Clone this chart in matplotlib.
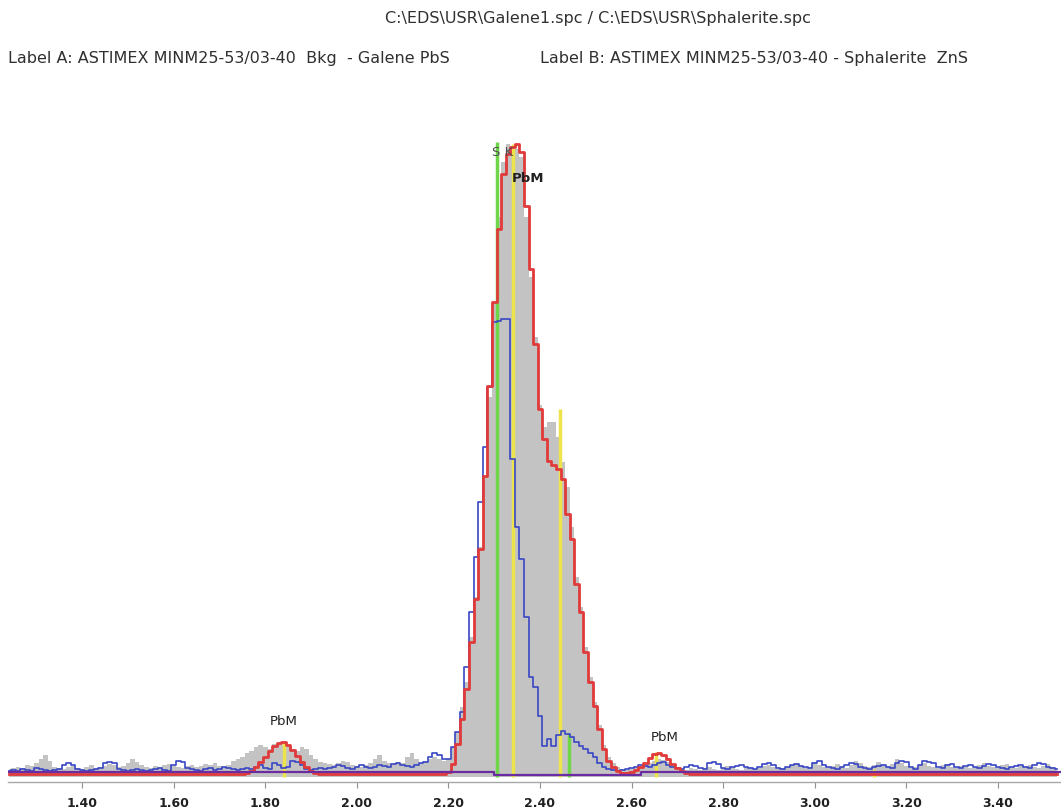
import numpy as np
import matplotlib
matplotlib.use("Agg")
import matplotlib.pyplot as plt

# EDS spectra, 10 eV channels, counts
energy = np.round(np.arange(1.24, 3.535, 0.01), 2)

grey_counts = [
    8, 9, 10, 9, 12, 11, 14, 18, 22, 16,
    10, 9, 8, 10, 11, 9, 8, 10, 12, 9,
    10, 11, 13, 12, 10, 11, 14, 18, 15, 12,
    10, 9, 11, 10, 12, 13, 11, 10, 9, 11,
    12, 10, 11, 13, 12, 14, 11, 10, 12, 16,
    18, 20, 24, 26, 30, 32, 30, 28, 33, 34,
    32, 30, 28, 26, 30, 28, 22, 18, 15, 14,
    13, 12, 14, 16, 15, 12, 11, 10, 12, 14,
    18, 22, 16, 14, 13, 15, 14, 20, 24, 18,
    14, 16, 18, 20, 18, 16, 18, 30, 45, 70,
    95, 140, 180, 230, 300, 380, 475, 560, 615, 633,
    630, 628, 620, 560, 500, 440, 372, 350, 355, 355,
    340, 315, 290, 250, 200, 170, 130, 100, 75, 52,
    32, 20, 14, 10, 8, 7, 8, 9, 10, 12,
    14, 16, 18, 17, 15, 12, 10, 8, 7, 9,
    8, 7, 9, 10, 8, 7, 9, 11, 10, 8,
    7, 9, 10, 8, 9, 11, 12, 10, 8, 9,
    10, 12, 14, 11, 9, 10, 15, 12, 10, 9,
    11, 13, 10, 9, 12, 16, 14, 11, 10, 12,
    15, 12, 10, 13, 18, 14, 11, 9, 10, 12,
    14, 11, 10, 9, 12, 13, 10, 9, 11, 10,
    9, 10, 12, 14, 11, 10, 9, 12, 13, 10,
    9, 11, 10, 12, 10, 9, 11, 13, 10, 9,
]

red_counts = [
    3, 3, 3, 3, 3, 3, 3, 3, 3, 3,
    3, 3, 3, 3, 3, 3, 3, 3, 3, 3,
    3, 3, 3, 3, 3, 3, 3, 3, 3, 3,
    3, 3, 3, 3, 3, 3, 3, 3, 3, 3,
    3, 3, 3, 3, 3, 3, 3, 3, 3, 3,
    3, 3, 4, 6, 10, 15, 20, 26, 31, 34,
    35, 32, 27, 21, 15, 10, 6, 4, 3, 3,
    3, 3, 3, 3, 3, 3, 3, 3, 3, 3,
    3, 3, 3, 3, 3, 3, 3, 3, 3, 3,
    3, 3, 3, 3, 3, 3, 5, 13, 33, 58,
    88, 135, 178, 228, 301, 391, 475, 548, 603, 623,
    630, 633, 625, 571, 508, 433, 368, 338, 316, 312,
    308, 298, 263, 238, 193, 165, 125, 95, 71, 48,
    28, 16, 10, 6, 4, 4, 5, 7, 10, 14,
    19, 23, 24, 22, 18, 13, 9, 6, 4, 3,
    3, 3, 3, 3, 3, 3, 3, 3, 3, 3,
    3, 3, 3, 3, 3, 3, 3, 3, 3, 3,
    3, 3, 3, 3, 3, 3, 3, 3, 3, 3,
    3, 3, 3, 3, 3, 3, 3, 3, 3, 3,
    3, 3, 3, 3, 3, 3, 3, 3, 3, 3,
    3, 3, 3, 3, 3, 3, 3, 3, 3, 3,
    3, 3, 3, 3, 3, 3, 3, 3, 3, 3,
    3, 3, 3, 3, 3, 3, 3, 3, 3, 3,
]

blue_counts = [
    6, 7, 6, 8, 7, 6, 9, 8, 7, 6,
    7, 8, 12, 14, 12, 8, 7, 6, 7, 8,
    9, 14, 15, 14, 8, 7, 6, 7, 8, 7,
    6, 7, 8, 9, 7, 6, 12, 16, 15, 9,
    8, 7, 6, 8, 9, 7, 8, 10, 9, 8,
    7, 8, 9, 8, 10, 12, 9, 8, 14, 12,
    9, 10, 16, 15, 12, 8, 7, 8, 9, 8,
    9, 10, 12, 11, 9, 8, 10, 12, 10, 9,
    10, 12, 11, 10, 13, 14, 12, 11, 10, 12,
    14, 15, 20, 24, 22, 18, 18, 30, 45, 65,
    110, 165, 220, 275, 330, 390, 455, 456, 458, 458,
    318, 250, 218, 160, 100, 90, 61, 31, 38, 31,
    42, 46, 43, 40, 35, 31, 28, 24, 20, 14,
    10, 8, 7, 6, 7, 8, 9, 10, 12, 11,
    10, 12, 14, 15, 12, 10, 9, 8, 10, 12,
    11, 9, 8, 14, 15, 13, 9, 8, 10, 11,
    12, 10, 9, 8, 10, 13, 14, 12, 9, 8,
    10, 12, 13, 11, 10, 9, 14, 16, 12, 10,
    9, 8, 10, 12, 14, 13, 10, 9, 8, 10,
    11, 12, 10, 9, 14, 16, 15, 10, 8, 12,
    16, 15, 14, 10, 9, 12, 13, 10, 9, 11,
    12, 10, 9, 11, 13, 12, 10, 9, 8, 10,
    11, 12, 10, 9, 12, 14, 13, 10, 9, 8,
]

# flat background under the spectra
bkg_energy = [1.24, 2.30, 2.30, 2.62, 2.62, 3.54]
bkg_level = [5, 5, 2, 2, 5, 5]

# KLM marker lines
line_energy = [1.84, 2.307, 2.342, 2.443, 2.464, 2.653, 3.13]
line_height = [34, 635, 633, 368, 43, 25, 8]
line_kind = ['Pb', 'S', 'Pb', 'Pb', 'S', 'Pb', 'Pb']

tick_values = [1.40, 1.60, 1.80, 2.00, 2.20, 2.40, 2.60, 2.80, 3.00, 3.20, 3.40]

W, H = 1061, 812
fig = plt.figure(figsize=(W / 100, H / 100), dpi=100)
ax = fig.add_axes([8 / W, (H - 783) / H, 1 - 8 / W, (783 - 110) / H])

ax.fill_between(energy, 0, grey_counts, step='mid', color='#c3c3c3', lw=0, zorder=1)

kind_colors = {'Pb': '#ece44a', 'S': '#6fd64a'}
for e, h, k in zip(line_energy, line_height, line_kind):
    ax.vlines(e, 0, h, color=kind_colors[k], lw=2.5, zorder=2)

ax.step(energy, blue_counts, where='mid', color='#3a46c4', lw=1.2, zorder=3)
ax.step(energy, red_counts, where='mid', color='#e03a3a', lw=2.0, zorder=4)
ax.plot(bkg_energy, bkg_level, color='#6a2ca0', lw=1.6, zorder=5)

# peak labels
ax.text(2.319, 626, 'S K', ha='center', va='center', fontsize=9.5, color='#505050', zorder=6)
ax.text(2.374, 600, 'PbM', ha='center', va='center', fontsize=9.5, fontweight='bold', color='#202020', zorder=6)
ax.text(1.84, 56, 'PbM', ha='center', va='center', fontsize=9.5, color='#202020', zorder=6)
ax.text(2.673, 40, 'PbM', ha='center', va='center', fontsize=9.5, color='#202020', zorder=6)

ax.set_xlim(1.238, 3.538)
ax.set_ylim(-5, 668)
for s in ['top', 'right', 'left']:
    ax.spines[s].set_visible(False)
ax.spines['bottom'].set_color('#a8a8a8')
ax.spines['bottom'].set_linewidth(1.0)
ax.set_yticks([])
ax.set_xticks(tick_values)
ax.set_xticklabels(['%.2f' % t for t in tick_values], fontsize=9, fontweight='bold', color='#202020')
ax.tick_params(axis='x', direction='out', length=4, color='#909090', pad=6)

# header texts
fig.text(598 / W, 1 - 18 / H, r'C:\EDS\USR\Galene1.spc / C:\EDS\USR\Sphalerite.spc',
         ha='center', va='center', fontsize=11.5, color='#303030')
fig.text(8 / W, 1 - 59 / H, 'Label A: ASTIMEX MINM25-53/03-40  Bkg  - Galene PbS',
         ha='left', va='center', fontsize=11.5, color='#303030')
fig.text(540 / W, 1 - 59 / H, 'Label B: ASTIMEX MINM25-53/03-40 - Sphalerite  ZnS',
         ha='left', va='center', fontsize=11.5, color='#303030')

fig.savefig('out.png', dpi=100, facecolor='w')
